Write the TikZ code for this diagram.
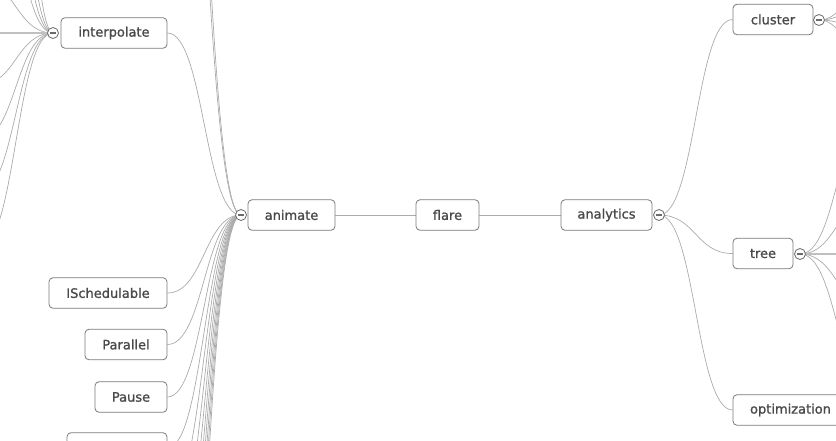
\documentclass[tikz,border=0pt]{standalone}
\usepackage{fontspec}
\setmainfont{DejaVu Sans}
\newfontfamily\boxfont{DejaVu Sans}[FakeBold=1.2]
\usetikzlibrary{calc}
\definecolor{boxgray}{HTML}{7A7A7A}
\definecolor{txtgray}{HTML}{4A4A4A}
\definecolor{linkgray}{HTML}{ABABAB}
\definecolor{circgray}{HTML}{6A6A6A}
\pgfdeclarelayer{bg}
\pgfsetlayers{bg,main}
\newcommand\linkit[2]{\draw[link] let \p1=(#1), \p2=(#2) in (\p1) .. controls ({0.5*\x1+0.5*\x2},\y1) and ({0.5*\x1+0.5*\x2},\y2) .. (\p2);}
\tikzset{
  box/.style={draw=boxgray, line width=0.8pt, rounded corners=4pt, fill=white, text=txtgray,
    minimum height=30.5pt, inner sep=0pt, font=\boxfont\fontsize{13}{15}\selectfont},
  tog/.style={circle, draw=circgray, fill=white, minimum size=11pt, inner sep=0pt, line width=0.8pt,
    path picture={\draw[line width=1.3pt, circgray] ([xshift=-2.6pt]path picture bounding box.center) -- ([xshift=2.6pt]path picture bounding box.center);}},
  link/.style={draw=linkgray, line width=0.7pt},
  thicklink/.style={draw=linkgray!75, line width=1.7pt}
}
\begin{document}
\begin{tikzpicture}[x=1pt,y=-1pt]
\useasboundingbox (0,0) rectangle (836,440);
\clip (0,0) rectangle (836,440);
% boxes
\node[box, minimum width=87pt] (animate) at (291.5,215) {animate};
\node[box, minimum width=63pt] (flare) at (447.5,215) {flare};
\node[box, minimum width=91pt] (analytics) at (606.5,215) {analytics};
\node[box, minimum width=106pt] (interpolate) at (114,33) {interpolate};
\node[box, minimum width=80pt] (cluster) at (773,19.5) {cluster};
\node[box, minimum width=60pt] (tree) at (763,253.5) {tree};
\node[box, minimum width=115pt] (optimization) at (790.5,410) {optimization};
\node[box, minimum width=118pt] (isched) at (108,293) {ISchedulable};
\node[box, minimum width=82pt] (parallel) at (126,344.5) {Parallel};
\node[box, minimum width=72pt] (pause) at (131,397) {Pause};
\node[box, minimum width=100pt] (partial) at (117,448) {};
% toggles
\node[tog] (ancirc) at (241,215) {};
\node[tog] (incirc) at (53,33) {};
\node[tog] (aycirc) at (659,215) {};
\node[tog] (clcirc) at (819,20) {};
\node[tog] (trcirc) at (800,254) {};
% off-canvas children
\foreach \yy [count=\k] in {-900,-500,-300,-175,-19,85,140,193,249}
  \coordinate (ich\k) at (-21,\yy);
\coordinate (ichmid) at (-21,33);
\foreach \yy [count=\k] in {-420,-500,500,552,604,656,708,760,812,864}
  \coordinate (ach\k) at (167,\yy);
\foreach \yy [count=\k] in {-60,-14,43,112}
  \coordinate (cch\k) at (893,\yy);
\foreach \yy [count=\k] in {115,198,308,392}
  \coordinate (tch\k) at (874,\yy);
\coordinate (tchmid) at (874,254);
\begin{pgfonlayer}{bg}
  \draw[link] (flare.east) -- (analytics.west);
  \draw[link] (flare.west) -- (animate.east);
  \linkit{aycirc.center}{cluster.west}
  \linkit{aycirc.center}{tree.west}
  \linkit{aycirc.center}{optimization.west}
  \linkit{ancirc.center}{interpolate.east}
  \linkit{ancirc.center}{isched.east}
  \linkit{ancirc.center}{parallel.east}
  \linkit{ancirc.center}{pause.east}
  \linkit{ancirc.center}{partial.east}
  \foreach \k in {1,...,10} {\linkit{ancirc.center}{ach\k}}
  \foreach \k in {1,...,9} {\linkit{incirc.center}{ich\k}}
  \draw[thicklink] (incirc.center) -- (ichmid);
  \foreach \k in {1,...,4} {\linkit{clcirc.center}{cch\k}}
  \foreach \k in {1,...,4} {\linkit{trcirc.center}{tch\k}}
  \draw[thicklink] (trcirc.center) -- (tchmid);
\end{pgfonlayer}
\end{tikzpicture}
\end{document}
